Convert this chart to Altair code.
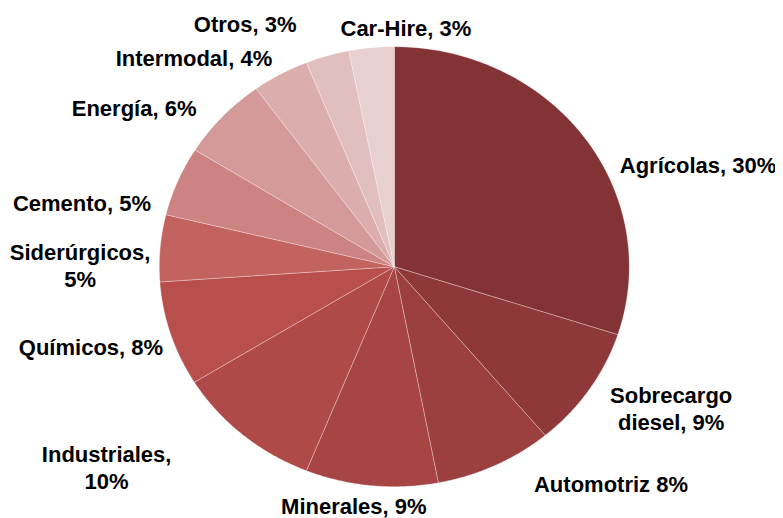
import altair as alt
import pandas as pd

# ---- data ----
categories = ["Agrícolas", "Sobrecargo diesel", "Automotriz", "Minerales", "Industriales",
              "Químicos", "Siderúrgicos", "Cemento", "Energía", "Intermodal", "Otros", "Car-Hire"]
shares = [30.0, 8.9, 8.1, 9.1, 10.1, 7.7, 4.9, 5.1, 6.1, 3.9, 3.0, 3.1]
label_lines = [["Agrícolas, 30%"], ["Sobrecargo", "diesel, 9%"], ["Automotriz 8%"],
               ["Minerales, 9%"], ["Industriales,", "10%"], ["Químicos, 8%"],
               ["Siderúrgicos,", "5%"], ["Cemento, 5%"], ["Energía, 6%"],
               ["Intermodal, 4%"], ["Otros, 3%"], ["Car-Hire, 3%"]]

# ---- styles / label placement ----
colors = ["#833334", "#8E3839", "#9C3F3F", "#A74444", "#AF4A48", "#B94F4C",
          "#C3635F", "#CD8381", "#D49A99", "#DBADAD", "#E1BFBF", "#E8CFD0"]
label_shift_deg = [16.5, -5.1, -17.5, 3.4, 13.0, 1.8, -4.8, -10.8, -10.1, -13.1, -13.5, 8.2]
label_radius = [1.371, 1.346, 1.355, 1.104, 1.530, 1.343, 1.337, 1.359, 1.319, 1.272, 1.267, 1.082]

W, H = 767, 510
CX, CY, RX, RY = 386.3, 258.7, 235.0, 220.0
LINE_H = 27
xdom = [-CX / RX, (W - CX) / RX]
ydom = [-(H - CY) / RY, CY / RY]

df = pd.DataFrame({
    "cat": categories,
    "share": shares,
    "idx": list(range(len(categories))),
    "label": label_lines,
    "shift": label_shift_deg,
    "lr": label_radius,
})

base = alt.Chart(df).transform_window(
    cum="sum(share)", sort=[alt.SortField("idx")], frame=[None, 0]
).transform_calculate(
    start="datum.cum - datum.share"
)

xs = alt.Scale(domain=xdom, nice=False, zero=False)
ys = alt.Scale(domain=ydom, nice=False, zero=False)

wedges = base.transform_calculate(
    k="sequence(0, 63)"
).transform_flatten(["k"]).transform_calculate(
    t="clamp((datum.k - 1) / 60, 0, 1)"
).transform_calculate(
    a="2 * PI * (datum.start + datum.share * datum.t) / 100",
    rr="(datum.k == 0 || datum.k == 62) ? 0 : 1",
).transform_calculate(
    u="datum.rr * sin(datum.a)",
    v="datum.rr * cos(datum.a)",
).mark_line(
    filled=True, stroke="white", strokeWidth=0.5, strokeOpacity=0.6, interpolate="linear"
).encode(
    x=alt.X("u:Q", scale=xs, axis=None),
    y=alt.Y("v:Q", scale=ys, axis=None),
    color=alt.Color("cat:N", scale=alt.Scale(domain=categories, range=colors), legend=None),
    detail="cat:N",
    order=alt.Order("k:Q"),
)

labels = base.transform_calculate(
    la="2 * PI * (datum.start + datum.share / 2) / 100 + datum.shift * PI / 180"
).transform_calculate(
    lu="datum.lr * sin(datum.la)",
    lv=f"datum.lr * cos(datum.la) + (length(datum.label) - 1) * {LINE_H / 2} / {RY}",
).mark_text(
    font="Liberation Sans", fontSize=22, fontWeight="bold", color="#000000",
    align="center", baseline="middle", lineHeight=LINE_H,
).encode(
    x=alt.X("lu:Q", scale=xs, axis=None),
    y=alt.Y("lv:Q", scale=ys, axis=None),
    text="label",
)

chart = alt.layer(wedges, labels).properties(
    width=W, height=H, padding=0, autosize=alt.AutoSizeParams(type="none")
).configure_view(stroke=None)

chart.save("out.html", embed_options={"renderer": "svg", "actions": False})
